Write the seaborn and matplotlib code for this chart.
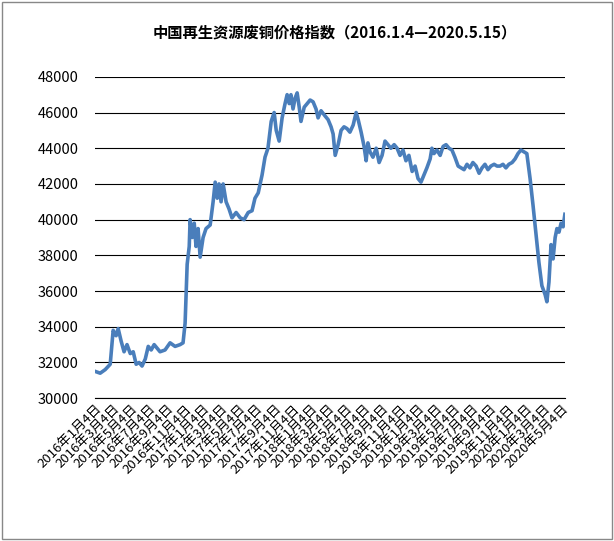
import matplotlib
matplotlib.use("Agg")
import matplotlib.pyplot as plt
from matplotlib import font_manager as fm
import seaborn as sns
import pandas as pd

title = "中国再生资源废铜价格指数（2016.1.4—2020.5.15）"
start = pd.Timestamp("2016-01-04")
day_offsets = [0,17,34,51,61,71,78,88,98,108,119,129,139,149,159,170,180,190,200,210,220,237,254,271,288,298,305,312,319,322,329,336,342,349,356,366,376,390,400,407,414,420,427,434,444,454,464,478,492,505,519,532,542,553,566,576,586,597,607,614,624,634,644,651,658,664,671,678,685,692,698,709,719,729,739,749,756,766,780,790,800,807,814,824,834,844,854,864,875,885,892,902,912,919,925,932,942,953,963,973,983,993,1003,1014,1024,1034,1044,1054,1064,1075,1085,1095,1105,1115,1125,1136,1142,1149,1159,1170,1180,1190,1200,1210,1220,1231,1241,1251,1261,1271,1281,1292,1302,1312,1322,1332,1342,1353,1363,1373,1383,1393,1403,1414,1424,1434,1444,1454,1464,1475,1485,1495,1505,1515,1526,1532,1539,1546,1553,1560,1566,1573,1580,1587,1593]
prices = [31500,31400,31600,31900,33800,33500,33900,33200,32600,33000,32500,32600,31900,32000,31800,32200,32900,32700,33000,32800,32600,32700,33100,32900,33000,33100,34200,37500,38500,40000,39000,39800,38500,39500,37900,39000,39500,39700,41000,42100,41200,42000,41000,42000,41000,40600,40100,40400,40100,40000,40400,40500,41200,41500,42500,43500,44000,45500,46000,45000,44400,45700,46500,47000,46500,47000,46200,46800,47100,46300,45500,46300,46500,46700,46600,46200,45700,46100,45800,45600,45200,44800,43600,44200,45000,45200,45100,44900,45300,46000,45600,44900,44100,43300,44300,43800,43500,44000,43200,43600,44400,44200,44000,44200,44000,43600,43900,43300,43600,42700,43000,42300,42100,42500,42900,43400,44000,43700,43900,43600,44100,44200,44000,43900,43500,43000,42900,42800,43100,42900,43200,43000,42600,42900,43100,42800,43000,43100,43000,43000,43100,42900,43100,43200,43400,43700,43900,43800,43700,42300,40800,39200,37600,36300,35800,35400,36500,38600,37800,39000,39500,39300,39800,39600,40300]
tick_dates = pd.date_range("2016-01-01", "2020-05-01", freq="2MS") + pd.Timedelta(days=3)
tick_labels = [f"{d.year}年{d.month}月{d.day}日" for d in tick_dates]

cjk = None
for f in fm.findSystemFonts():
    if "CJK" in f and ("SC" in f or "ttc" in f.lower()):
        try:
            fm.fontManager.addfont(f)
        except Exception:
            pass
for name in ["Noto Sans CJK SC", "Noto Sans CJK JP", "Noto Sans CJK TC"]:
    if any(e.name == name for e in fm.fontManager.ttflist):
        cjk = name
        break
plt.rcParams["font.family"] = "sans-serif"
plt.rcParams["font.sans-serif"] = ([cjk] if cjk else []) + ["DejaVu Sans"]

df = pd.DataFrame({"date": start + pd.to_timedelta(day_offsets, unit="D"), "price": prices})

fig = plt.figure(figsize=(6.14, 5.41), dpi=100)
fig.patches.append(plt.Rectangle((0.003, 0.003), 0.994, 0.994, transform=fig.transFigure,
                                 fill=False, edgecolor="#888888", lw=1))
ax = fig.add_axes([0.155, 0.264, 0.765, 0.594])
sns.lineplot(data=df, x="date", y="price", ax=ax, color="#4a7ebb", lw=2.6)
ax.set_ylim(30000, 48000)
ax.set_yticks(range(30000, 48001, 2000))
ax.set_xlim(start, df["date"].iloc[-1])
ax.grid(axis="y", color="black", lw=0.8)
ax.set_axisbelow(True)
for s in ["top", "right", "left"]:
    ax.spines[s].set_visible(False)
ax.spines["bottom"].set_color("black")
ax.set_xticks(tick_dates)
ax.set_xticklabels(tick_labels, rotation=45, ha="right", rotation_mode="anchor", fontsize=9.5)
ax.tick_params(axis="y", length=0, labelsize=10.5, pad=12)
ax.tick_params(axis="x", length=0, pad=3)
ax.set_xlabel("")
ax.set_ylabel("")
fig.text(0.545, 0.94, title, ha="center", va="center", fontsize=11, fontweight="bold")
fig.savefig("out.png", dpi=100)
